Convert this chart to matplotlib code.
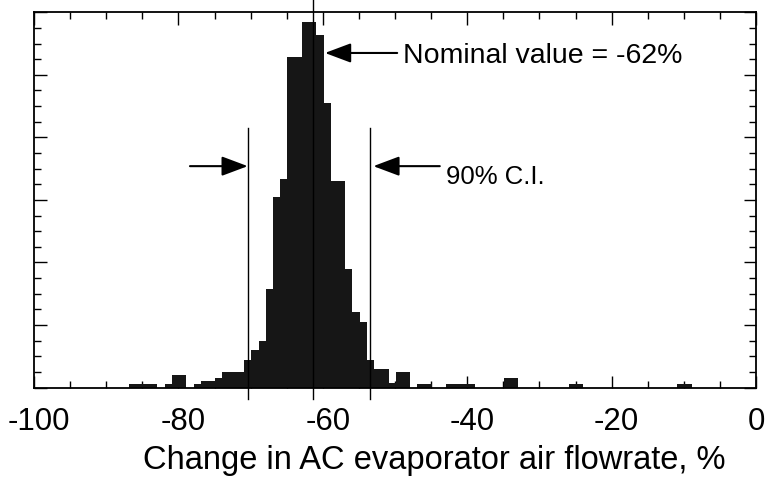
"""
Histogram of change in AC evaporator air flowrate
"""
import numpy as np
import matplotlib
matplotlib.use('Agg')
import matplotlib.pyplot as plt
from matplotlib.transforms import ScaledTranslation

plt.rcParams['font.family'] = ['Liberation Sans', 'DejaVu Sans']
plt.rcParams['axes.unicode_minus'] = False

# 数据 (bins of 1 %, counts)
bin_start = -86.9
bin_width = 1.0
counts = [5, 5, 5, 5, 0, 5, 20, 20, 0, 5,
          10, 10, 15, 24, 24, 24, 44, 60, 75, 158,
          305, 334, 529, 529, 584, 584, 564, 455, 330, 330,
          190, 120, 105, 44, 29, 29, 8, 24, 24, 0,
          5, 5, 0, 0, 5, 5, 5, 5, 0, 0,
          0, 0, 15, 15, 0, 0, 0, 0, 0, 0,
          0, 5, 5, 0, 0, 0, 0, 0, 0, 0,
          0, 0, 0, 0, 0, 0, 5, 5]

nominal = -61.3          # drawn position of the nominal value line
ci_low, ci_high = -70.4, -53.4
xticks = [-100, -80, -60, -40, -20, 0]
xlabel = 'Change in AC evaporator air flowrate, %'

edges = bin_start + bin_width * np.arange(len(counts))

fig = plt.figure(figsize=(7.68, 4.81), dpi=100)
ax = fig.add_axes([0.0443, 0.1923, 0.9401, 0.7800])

ax.bar(edges, counts, width=bin_width, align='edge', color='#161616',
       linewidth=0, zorder=2)

# vertical reference lines
ax.plot([nominal, nominal], [-18, 622], color='black', lw=1.0,
        clip_on=False, zorder=3)
for x in (ci_low, ci_high):
    ax.plot([x, x], [-18, 415], color='black', lw=1.0, clip_on=False, zorder=3)

ax.set_xlim(-100, 0)
ax.set_ylim(0, 600)

arrow = dict(arrowstyle='-|>,head_length=0.8,head_width=0.3',
             color='black', lw=1.5, mutation_scale=20, shrinkA=0, shrinkB=0)
ax.annotate('', xy=(ci_low, 354), xytext=(-78.4, 354), arrowprops=arrow)
ax.annotate('', xy=(ci_high + 0.4, 354), xytext=(-43.8, 354), arrowprops=arrow)
ax.text(-43.0, 338, '90% C.I.', fontsize=18.5, va='center', ha='left')
ax.annotate('', xy=(-59.7, 535), xytext=(-49.7, 535), arrowprops=arrow)
ax.text(-48.9, 531, 'Nominal value = -62%', fontsize=20.5, va='center', ha='left')

ax.set_xticks(xticks)
ax.set_xticklabels([str(t) for t in xticks])
ax.set_xticks(np.arange(-100, 1, 5), minor=True)
ax.set_yticks(np.arange(0, 601, 100))
ax.set_yticks(np.arange(0, 601, 25), minor=True)
ax.tick_params(which='both', direction='in', top=True, right=True,
               labelleft=False, color='black', width=1.0)
ax.tick_params(which='major', length=9)
ax.tick_params(which='minor', length=5)
ax.tick_params(axis='x', labelsize=22.5, pad=13)
# the minus sign in the original is narrow, so negative labels sit a bit right
shift = ScaledTranslation(0.05, 0, fig.dpi_scale_trans)
for lab in ax.get_xticklabels():
    if lab.get_text().startswith('-'):
        lab.set_transform(lab.get_transform() + shift)
for s in ax.spines.values():
    s.set_linewidth(1.3)

ax.set_xlabel(xlabel, fontsize=23.5, labelpad=6, x=0.555)

plt.savefig('out.png', dpi=100)
plt.close()
